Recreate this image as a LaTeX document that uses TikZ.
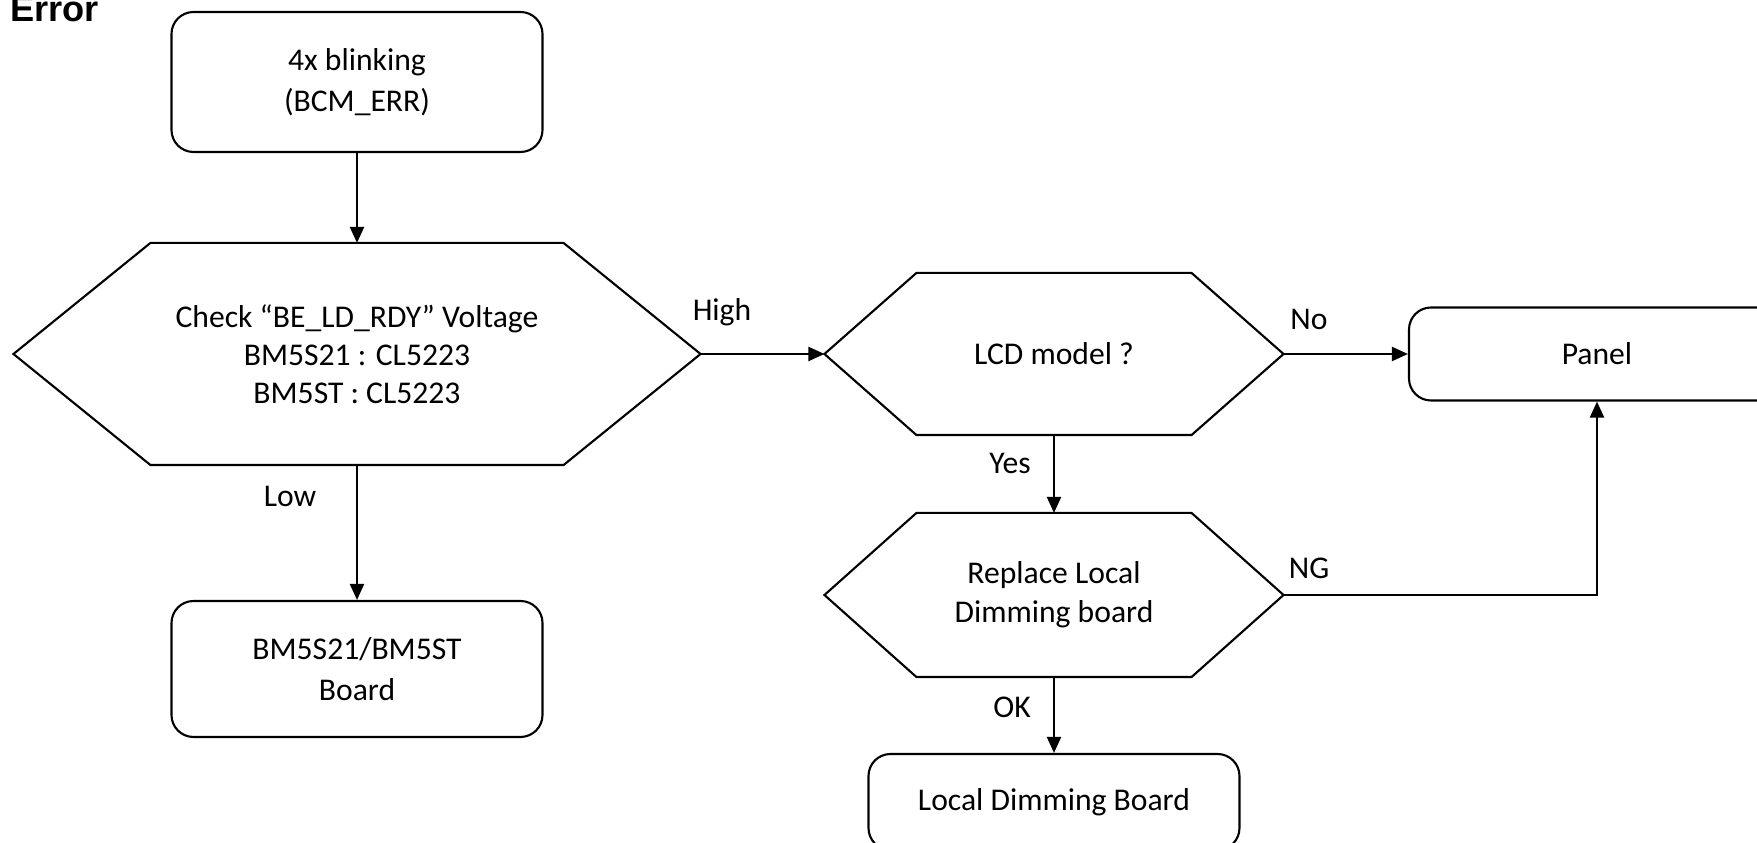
\documentclass[tikz,border=0pt]{standalone}
\usepackage{fontspec}
\setmainfont{Carlito}
\newfontfamily\errfont{Liberation Sans}
\usetikzlibrary{arrows.meta,calc}

\newcommand{\InsetBig}{1.37}
\newcommand{\InsetSmall}{0.92}
% hexagon round a node: name, inset
\newcommand{\hexoutline}[2]{%
  \draw (#1.west) -- ($(#1.north west)+(#2,0)$) -- ($(#1.north east)-(#2,0)$) -- (#1.east)
    -- ($(#1.south east)-(#2,0)$) -- ($(#1.south west)+(#2,0)$) -- cycle;}

\begin{document}
\begin{tikzpicture}[font=\fontsize{9}{10.8}\selectfont, line width=0.6pt,
    rbox/.style={draw, rounded corners=0.22cm, align=center, inner sep=0pt, font=\fontsize{9}{11.8}\selectfont},
    hexnode/.style={align=center, inner sep=0pt},
    flow/.style={-{Triangle[length=1.6mm,width=1.4mm]}},
    lbl/.style={inner sep=0pt}]
\useasboundingbox (0,0) rectangle (17.57,8.43);

\node[font=\errfont\bfseries\fontsize{10.3}{12}\selectfont, anchor=base west, inner sep=0pt] (errtitle) at (0.09,8.21) {Error};

\node[rbox, minimum width=3.71cm, minimum height=1.40cm] (blink) at (3.57,7.61) {4x blinking\\(BCM\_ERR)};
\node[hexnode, minimum width=6.85cm, minimum height=2.20cm] (chk) at (3.57,4.89) {Check “BE\_LD\_RDY” Voltage\\BM5S21 : CL5223\\BM5ST : CL5223};
\node[rbox, minimum width=3.71cm, minimum height=1.36cm] (bmboard) at (3.57,1.74) {BM5S21/BM5ST\\Board};
\node[hexnode, minimum width=4.57cm, minimum height=1.60cm] (lcd) at (10.54,4.89) {LCD model ?};
\node[rbox, minimum width=3.76cm, minimum height=0.93cm] (panel) at (15.97,4.89) {Panel};
\node[hexnode, minimum width=4.57cm, minimum height=1.62cm, font=\fontsize{9}{11.2}\selectfont] (repl) at (10.54,2.48) {Replace Local\\Dimming board};
\node[rbox, minimum width=3.71cm, minimum height=0.96cm] (ldb) at (10.54,0.41) {Local Dimming Board};

\hexoutline{chk}{\InsetBig}
\hexoutline{lcd}{\InsetSmall}
\hexoutline{repl}{\InsetSmall}

% connectors
\draw[flow] (blink.south) -- (chk.north);
\draw[flow] (chk.south) -- (bmboard.north);
\draw[flow] (chk.east) -- (lcd.west);
\draw[flow] (lcd.east) -- (panel.west);
\draw[flow] (lcd.south) -- (repl.north);
\draw[flow] (repl.south) -- (ldb.north);
\draw[flow] (repl.east) -| (panel.south);

% branch labels
\node[lbl] (lowlbl) at (2.90,3.47) {Low};
\node[lbl] (highlbl) at (7.22,5.31) {High};
\node[lbl] (nolbl) at (13.09,5.24) {No};
\node[lbl] (yeslbl) at (10.10,3.80) {Yes};
\node[lbl] (nglbl) at (13.09,2.75) {NG};
\node[lbl] (oklbl) at (10.12,1.36) {OK};
\end{tikzpicture}
\end{document}
